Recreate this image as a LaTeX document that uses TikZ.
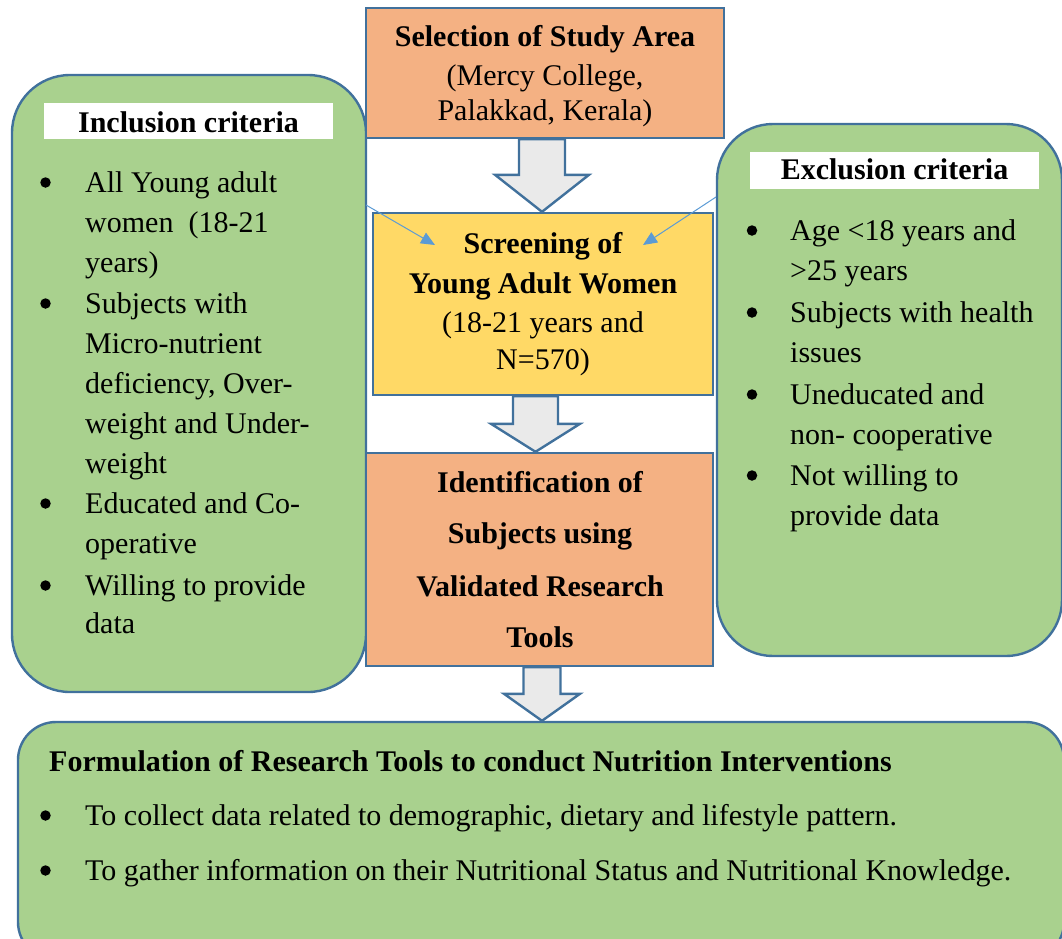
\documentclass[tikz,border=0pt]{standalone}
\usepackage{fontspec}
\setmainfont{Liberation Serif}
\usetikzlibrary{arrows.meta,calc}

\definecolor{edge}{HTML}{41719C}
\definecolor{peach}{HTML}{F4B183}
\definecolor{sun}{HTML}{FFD966}
\definecolor{leaf}{HTML}{A9D18E}
\definecolor{pale}{HTML}{EAEAEA}
\definecolor{sky}{HTML}{5B9BD5}

% hollow block arrow between two stacked boxes:
% #1 upper node, #2 lower node, #3 centre x, #4 shaft half width,
% #5 head half width, #6 head length
\newcommand\flowarrow[6]{%
  \path[bigarrow] let \p1=(#1.south), \p2=(#2.north) in
    ({#3pt-#4pt},\y1) -- ({#3pt-#4pt},\y2+#6pt) -- ({#3pt-#5pt},\y2+#6pt)
    -- ({#3pt},\y2) -- ({#3pt+#5pt},\y2+#6pt) -- ({#3pt+#4pt},\y2+#6pt)
    -- ({#3pt+#4pt},\y1) -- cycle;}

\begin{document}
\begin{tikzpicture}[x=1pt,y=-1pt,
  box/.style={draw=edge, line width=2.4pt, inner sep=0pt},
  panel/.style={box, fill=leaf},
  tag/.style={fill=white, inner sep=0pt},
  txt/.style={inner sep=0pt, anchor=base west, font=\fontsize{30}{36}\selectfont},
  ctxt/.style={txt, anchor=base},
  btxt/.style={ctxt, font=\fontsize{30}{36}\selectfont\bfseries},
  bdot/.style={circle, fill=black, inner sep=0pt, minimum size=10.5pt, yshift=9.5pt},
  bigarrow/.style={draw=edge, line width=2.4pt, fill=pale, line join=miter},
  pointer/.style={draw=sky, line width=1pt, -{Triangle[length=14pt,width=12pt]}},
]
\useasboundingbox (0,0) rectangle (1062,938);
\clip (0,0) rectangle (1062,938);

% side panels
\node[panel, rounded corners=58pt, minimum width=354pt, minimum height=617pt] (inc) at (189,383.5) {};
\node[panel, rounded corners=56pt, minimum width=345pt, minimum height=532pt] (exc) at (889.5,390) {};

% main flow
\node[box, fill=peach, minimum width=358pt, minimum height=130pt] (sel) at (545,73) {};
\node[box, fill=sun,   minimum width=340pt, minimum height=182pt] (scr) at (543,304) {};
\node[box, fill=peach, minimum width=347pt, minimum height=213pt] (idf) at (539.5,559.5) {};
\node[panel, rounded corners=38pt, minimum width=1046pt, minimum height=238pt] (form) at (541,841) {};

\flowarrow{sel}{scr}{542}{23}{47}{37}
\flowarrow{scr}{idf}{535.5}{22.5}{44.5}{28}
\flowarrow{idf}{form}{542}{18.5}{38}{27}

% criteria pointers
\coordinate (incp) at (366,205);
\coordinate (incq) at (435,245);
\coordinate (excp) at (716,197);
\coordinate (excq) at (643,245);
\draw[pointer] (incp) -- (incq);
\draw[pointer] (excp) -- (excq);

% texts of the flow boxes
\node[btxt] (sel1) at (545,46)  {Selection of Study Area};
\node[ctxt] (sel2) at (545,85)  {(Mercy College,};
\node[ctxt] (sel3) at (545,120) {Palakkad, Kerala)};

\node[btxt] (scr1) at (543,253) {Screening of};
\node[btxt] (scr2) at (543,293) {Young Adult Women};
\node[ctxt] (scr3) at (543,332) {(18-21 years and};
\node[ctxt] (scr4) at (543,369) {N=570)};

\node[btxt] (idf1) at (540,492) {Identification of};
\node[btxt] (idf2) at (540,543) {Subjects using};
\node[btxt] (idf3) at (540,596) {Validated Research};
\node[btxt] (idf4) at (540,647) {Tools};

% inclusion criteria
\node[tag, minimum width=289pt, minimum height=36pt] (inctag) at (188.5,121) {};
\node[btxt] (inch) at (188.5,132) {Inclusion criteria};
\node[bdot] (incb1) at (45.5,192) {};
\node[txt] (inc1a) at (85,192) {All Young adult};
\node[txt] (inc1b) at (85,232) {women\ \ (18-21};
\node[txt] (inc1c) at (85,272) {years)};
\node[bdot] (incb2) at (45.5,313) {};
\node[txt] (inc2a) at (85,313) {Subjects with};
\node[txt] (inc2b) at (85,353) {Micro-nutrient};
\node[txt] (inc2c) at (85,393) {deficiency, Over-};
\node[txt] (inc2d) at (85,433) {weight and Under-};
\node[txt] (inc2e) at (85,473) {weight};
\node[bdot] (incb3) at (45.5,513) {};
\node[txt] (inc3a) at (85,513) {Educated and Co-};
\node[txt] (inc3b) at (85,553) {operative};
\node[bdot] (incb4) at (45.5,595) {};
\node[txt] (inc4a) at (85,595) {Willing to provide};
\node[txt] (inc4b) at (85,633) {data};

% exclusion criteria
\node[tag, minimum width=289pt, minimum height=37pt] (exctag) at (894.5,170.5) {};
\node[btxt] (exch) at (894.5,179) {Exclusion criteria};
\node[bdot] (excb1) at (752,240) {};
\node[txt] (exc1a) at (790,240) {Age <18 years and};
\node[txt] (exc1b) at (790,280) {>25 years};
\node[bdot] (excb2) at (752,322) {};
\node[txt] (exc2a) at (790,322) {Subjects with health};
\node[txt] (exc2b) at (790,362) {issues};
\node[bdot] (excb3) at (752,404) {};
\node[txt] (exc3a) at (790,404) {Uneducated and};
\node[txt] (exc3b) at (790,444) {non- cooperative};
\node[bdot] (excb4) at (752,485) {};
\node[txt] (exc4a) at (790,485) {Not willing to};
\node[txt] (exc4b) at (790,525) {provide data};

% formulation box
\node[txt, font=\fontsize{30}{36}\selectfont\bfseries] (formh) at (49,771)
  {Formulation of Research Tools to conduct Nutrition Interventions};
\node[bdot] (formb1) at (45.5,825) {};
\node[txt] (form1) at (85,825) {To collect data related to demographic, dietary and lifestyle pattern.};
\node[bdot] (formb2) at (45.5,880) {};
\node[txt] (form2) at (85,880) {To gather information on their Nutritional Status and Nutritional Knowledge.};
\end{tikzpicture}
\end{document}
